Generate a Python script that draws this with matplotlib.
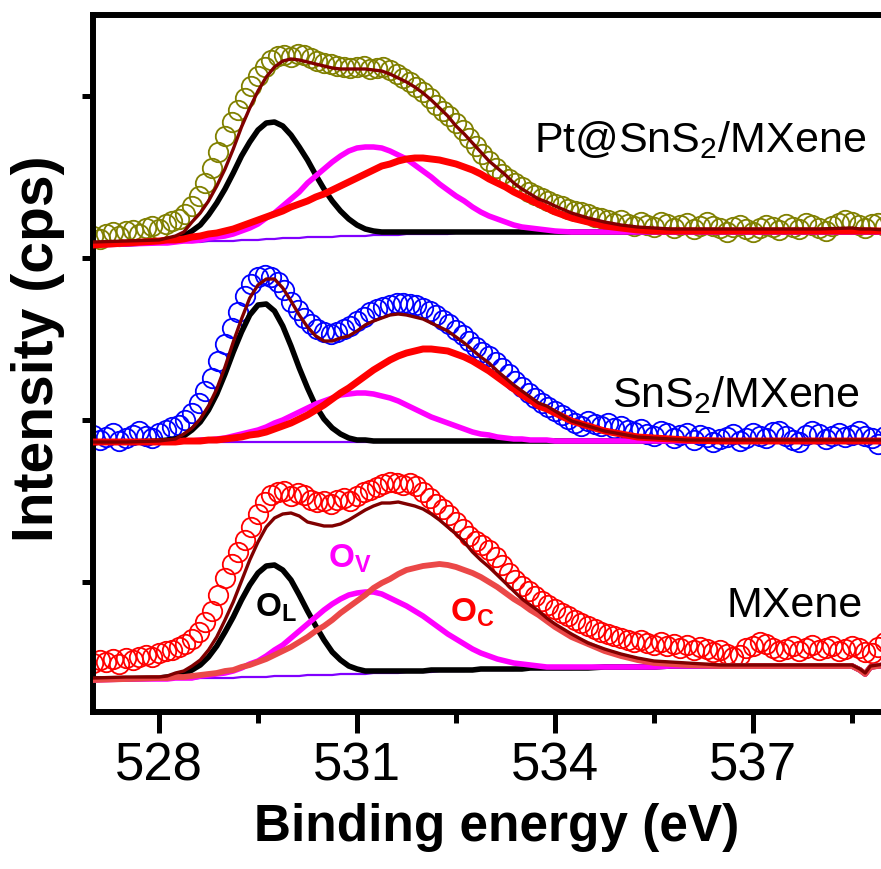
import numpy as np
import matplotlib
matplotlib.use("Agg")
import matplotlib.pyplot as plt
from matplotlib.ticker import MultipleLocator

plt.rcParams['font.family'] = 'Liberation Sans'
plt.rcParams['mathtext.fontset'] = 'custom'
plt.rcParams['mathtext.rm'] = 'Liberation Sans'
plt.rcParams['mathtext.bf'] = 'Liberation Sans:bold'
plt.rcParams['mathtext.it'] = 'Liberation Sans:italic'

# measured points (binding energy grid of the scan, 0.1 eV step)
scan_e = np.linspace(527.0, 539.0, 121)

pt_data = [476, 473, 478, 480, 476, 481, 482, 478, 484, 486,
           483, 488, 491, 493, 498, 506, 516, 529, 544, 560,
           576, 590, 602, 614, 626, 636, 645, 652, 656, 657,
           655, 658, 657, 654, 651, 649, 648, 646, 645, 644,
           645, 646, 643, 644, 645, 642, 638, 634, 630, 625,
           620, 614, 607, 601, 596, 589, 582, 574, 566, 558,
           551, 544, 538, 533, 529, 525, 520, 517, 514, 511,
           508, 506, 503, 501, 500, 498, 495, 494, 492, 489,
           492, 488, 486, 490, 487, 485, 490, 488, 484, 487,
           489, 483, 486, 490, 486, 484, 480, 485, 487, 483,
           480, 484, 487, 485, 482, 488, 485, 483, 489, 487,
           484, 481, 486, 489, 492, 490, 487, 484, 488, 489,
           486]

sns_data = [277, 272, 275, 279, 271, 274, 277, 281, 276, 274,
            279, 282, 285, 287, 292, 299, 309, 321, 334, 351,
            368, 384, 400, 416, 428, 435, 437, 435, 430, 422,
            410, 402, 394, 388, 383, 380, 378, 380, 383, 386,
            391, 395, 400, 403, 405, 407, 409, 409, 408, 407,
            404, 401, 397, 392, 388, 382, 377, 371, 365, 360,
            356, 350, 344, 338, 331, 325, 319, 314, 309, 305,
            301, 297, 293, 289, 286, 291, 288, 286, 289, 284,
            286, 282, 280, 283, 278, 276, 281, 279, 274, 277,
            279, 272, 277, 275, 270, 273, 275, 278, 271, 274,
            279, 276, 274, 280, 281, 276, 272, 270, 277, 281,
            278, 273, 276, 279, 275, 277, 281, 276, 274, 268,
            276]

mx_data = [49, 52, 50, 53, 48, 54, 52, 55, 57, 55,
           59, 61, 62, 65, 68, 73, 80, 90, 101, 117,
           134, 148, 160, 172, 185, 198, 210, 217, 220, 221,
           216, 219, 217, 212, 210, 211, 208, 212, 214, 211,
           216, 220, 222, 225, 228, 230, 229, 227, 229, 226,
           220, 214, 208, 203, 197, 190, 183, 176, 171, 167,
           162, 155, 147, 139, 132, 126, 121, 116, 111, 107,
           103, 99, 96, 92, 89, 86, 83, 80, 78, 76,
           74, 72, 70, 72, 69, 67, 70, 66, 68, 64,
           67, 62, 65, 63, 60, 62, 58, 55, 57, 64,
           66, 70, 68, 64, 61, 63, 66, 61, 64, 67,
           62, 64, 66, 61, 63, 66, 64, 60, 59, 65,
           70]

# fitted curves, read on a finer grid around the peaks
fit_e = np.concatenate([[527.0, 527.5],
                        np.arange(528.0, 534.001, 0.125),
                        np.arange(534.25, 536.001, 0.25),
                        np.arange(536.5, 538.51, 0.5),
                        [538.62, 538.70, 538.78, 539.0]])

pt_base = ([467, 468]
           + [469, 469, 470, 470, 470, 470, 471, 471, 471, 471,
              472, 472, 472, 473, 473, 474, 474, 474, 475, 475,
              475, 475, 476, 476, 476, 476, 477, 477, 477, 477,
              478, 478, 478, 478, 478, 478, 479] + [479] * 12
           + [479] * 8 + [479] * 5 + [479] * 4)
pt_ol = ([468, 468]
         + [470, 471, 474, 476, 481, 487, 497, 509, 523, 539,
            556, 570, 582, 589, 590, 586, 577, 565, 552, 537,
            523, 511, 501, 493, 487, 483, 481, 480] + [480] * 21
         + [480] * 8 + [480] * 5 + [480] * 4)
pt_ov = ([467, 468]
         + [469, 469, 470, 471, 471, 472, 474, 475, 476, 478,
            481, 484, 488, 494, 499, 506, 513, 520, 529, 536,
            543, 550, 556, 561, 564, 565, 565, 564, 561, 557,
            553, 547, 541, 535, 528, 522, 516, 511, 505, 500,
            496, 493, 490, 487, 485, 484, 483, 482, 481]
         + [480] * 8 + [480] * 5 + [480] * 4)
pt_oc = ([467, 469]
         + [471, 472, 472, 473, 475, 476, 478, 479, 481, 483,
            486, 489, 492, 495, 498, 501, 505, 508, 511, 515,
            518, 522, 526, 530, 534, 538, 542, 546, 548, 551,
            553, 554, 554, 553, 552, 550, 548, 545, 542, 538,
            533, 529, 525, 520, 516, 512, 508, 504, 500]
         + [494, 490, 486, 484, 482, 481, 481, 481] + [481] * 5 + [481] * 4)
pt_env = ([470, 471]
          + [472, 474, 476, 480, 490, 499, 511, 526, 543, 563,
             585, 604, 621, 635, 645, 651, 653, 652, 650, 648,
             646, 644, 643, 643, 643, 643, 642, 641, 638, 634,
             630, 625, 619, 612, 604, 596, 586, 578, 569, 560,
             551, 544, 537, 529, 523, 518, 513, 510, 506]
          + [499, 494, 490, 487, 485, 484, 483, 483]
          + [483, 483, 483, 483, 484] + [483, 483, 483, 482])

sns_base = [269, 269] + [270] * 49 + [271] * 8 + [271] * 5 + [271] * 4
sns_ol = ([270, 270]
          + [271, 272, 273, 276, 282, 290, 302, 318, 338, 360,
             380, 397, 407, 408, 401, 386, 366, 344, 324, 306,
             293, 284, 278, 274, 272, 272] + [271] * 23
          + [271] * 8 + [271] * 5 + [271] * 4)
sns_ov = ([270, 270]
          + [270, 270, 270, 271, 271, 272, 272, 273, 274, 276,
             278, 280, 282, 285, 289, 292, 296, 300, 304, 308,
             311, 314, 317, 318, 319, 319, 318, 316, 314, 311,
             307, 303, 299, 295, 292, 289, 286, 283, 280, 278,
             277, 275, 274, 273, 273, 272, 272, 272, 271]
          + [271] * 8 + [271] * 5 + [271] * 4)
sns_oc = ([270, 270]
          + [270, 270, 270, 271, 271, 271, 272, 272, 273, 274,
             275, 277, 278, 280, 283, 286, 289, 293, 297, 302,
             307, 313, 319, 324, 330, 336, 342, 347, 352, 356,
             359, 361, 363, 363, 362, 361, 358, 355, 351, 346,
             341, 335, 329, 323, 317, 312, 306, 303, 299]
          + [291, 286, 281, 278, 275, 274, 273, 272] + [271] * 5 + [271] * 4)
sns_env = ([270, 270]
           + [271, 272, 273, 278, 284, 293, 306, 323, 345, 370,
              393, 414, 427, 433, 433, 424, 411, 397, 385, 376,
              371, 371, 374, 376, 381, 387, 391, 394, 397, 398,
              397, 395, 393, 389, 385, 381, 375, 369, 362, 355,
              349, 341, 334, 327, 321, 315, 309, 306, 301]
           + [291, 286, 281, 278, 275, 274, 273, 272] + [272] * 5 + [272] * 4)

mx_base = ([32, 32]
           + [33] * 5 + [34] * 5 + [35] * 4 + [36] * 4 + [37] * 4 + [38] * 4
           + [39] * 4 + [40] * 4 + [41] * 4 + [42] * 6 + [43] * 5
           + [43, 44, 44, 44, 44, 44, 45, 45] + [45] * 5 + [41, 37, 44, 46])
mx_ol = ([33, 33]
         + [34, 35, 36, 38, 42, 47, 55, 66, 80, 95,
            112, 127, 139, 146, 147, 142, 132, 117, 101, 86,
            72, 60, 52, 46, 43, 41, 41, 41, 41, 41,
            41, 41, 41, 42, 42, 42, 42, 42, 42, 43,
            43, 43, 43, 43, 43, 44, 44, 44, 44]
         + [44, 44, 45, 45, 45, 45, 46, 46] + [46] * 5 + [42, 38, 45, 47])
mx_ov = ([32, 33]
         + [33, 33, 34, 34, 34, 36, 37, 38, 39, 41,
            44, 48, 51, 56, 62, 67, 74, 81, 88, 95,
            102, 108, 113, 117, 119, 120, 120, 118, 114, 110,
            106, 101, 96, 90, 84, 78, 73, 68, 63, 59,
            56, 53, 51, 49, 48, 47, 46, 45, 45]
         + [45, 45, 45, 45, 45, 45, 46, 46] + [46] * 5 + [42, 38, 45, 47])
mx_oc = ([32, 33]
         + [34, 34, 35, 35, 36, 37, 38, 39, 41, 42,
            45, 47, 50, 53, 57, 61, 65, 70, 75, 81,
            86, 92, 99, 105, 111, 117, 124, 129, 133, 138,
            142, 144, 146, 147, 148, 147, 145, 142, 139, 135,
            130, 125, 119, 113, 108, 102, 97, 91, 85]
         + [75, 68, 61, 56, 52, 49, 48, 47] + [46] * 5 + [42, 38, 45, 47])
mx_env = ([34, 35]
          + [35, 36, 39, 41, 46, 52, 62, 75, 92, 110,
             131, 152, 170, 185, 194, 198, 199, 196, 190, 188,
             186, 186, 188, 192, 197, 202, 206, 209, 209, 210,
             208, 206, 203, 198, 192, 185, 178, 170, 160, 152,
             145, 137, 129, 121, 113, 107, 101, 94, 88]
          + [78, 69, 63, 58, 54, 51, 50, 49] + [47] * 5 + [43, 39, 46, 48])

samples = ['Pt@SnS$_2$/MXene', 'SnS$_2$/MXene', 'MXene']
label_pos = [(538.72, 560), (538.62, 305), (538.67, 95)]


def main():
    fig = plt.figure(figsize=(8.81, 8.69), dpi=100)
    ax = fig.add_axes([93 / 881, 157 / 869, 792 / 881, 697 / 869])

    spectra = [
        (pt_data, pt_base, pt_ol, pt_ov, pt_oc, pt_env, '#808000', '#FF0000', 5),
        (sns_data, sns_base, sns_ol, sns_ov, sns_oc, sns_env, '#0000FF', '#FF0000', 5),
        (mx_data, mx_base, mx_ol, mx_ov, mx_oc, mx_env, '#FF0000', '#EB4848', 4.2),
    ]
    for data, base, ol, ov, oc, env, mcol, ccol, clw in spectra:
        ax.plot(scan_e, data, 'o', mfc='none', mec=mcol, ms=14, mew=1.3, zorder=2)
        ax.plot(fit_e, base, color='#8000FF', lw=1.6, zorder=3)
        ax.plot(fit_e, ol, color='black', lw=4, zorder=3)
        ax.plot(fit_e, ov, color='#FF00FF', lw=4, zorder=3)
        ax.plot(fit_e, oc, color=ccol, lw=clw, zorder=3)
        ax.plot(fit_e, env, color='#800000', lw=2.4, zorder=4)

    for name, (x, y) in zip(samples, label_pos):
        ax.text(x, y, name, fontsize=31, ha='right', va='baseline')

    ax.text(529.45, 95, r'$\mathbf{O_L}$', fontsize=24, color='black', va='baseline')
    ax.text(530.56, 144, r'$\mathbf{O_V}$', fontsize=24, color='#FF00FF', va='baseline')
    ax.text(532.41, 90, r'$\mathbf{O_C}$', fontsize=24, color='#FF0000', va='baseline')

    ax.set_xlim(527, 539)
    ax.set_ylim(0, 697)
    ax.xaxis.set_minor_locator(MultipleLocator(1.5))
    ax.set_xticks([528, 531, 534, 537])
    ax.set_yticks([130, 292, 454, 616])
    ax.set_yticklabels([])

    for s in ax.spines.values():
        s.set_linewidth(4.3)
    ax.tick_params(axis='x', which='major', length=15, width=3.6, labelsize=38, pad=6)
    ax.tick_params(axis='x', which='minor', length=8, width=3.6)
    ax.tick_params(axis='y', which='major', length=8, width=3.6)

    ax.set_xlabel('Binding energy (eV)', fontsize=37, fontweight='bold')
    ax.set_ylabel('Intensity (cps)', fontsize=41, fontweight='bold')
    ax.xaxis.set_label_coords(0.51, -0.13)
    ax.yaxis.set_label_coords(-0.035, 0.521)

    fig.savefig('out.png', dpi=100)


if __name__ == "__main__":
    main()
